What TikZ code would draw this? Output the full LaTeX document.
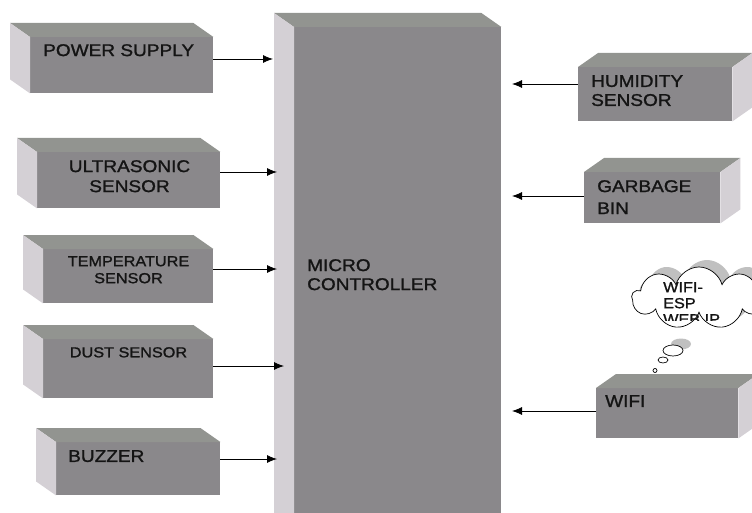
\documentclass[tikz,border=0pt]{standalone}
\usepackage{fontspec}
\newfontfamily\boxfont[FakeStretch=1.12, FakeBold=1.3]{Liberation Sans}
\definecolor{facegray}{RGB}{138,136,139}
\definecolor{topgray}{RGB}{146,148,144}
\definecolor{sidegray}{RGB}{212,208,213}
\definecolor{shadowgray}{RGB}{192,192,192}
\definecolor{textblack}{RGB}{20,20,20}
\usetikzlibrary{
    arrows.meta,
    positioning,
    calc,
    shapes.symbols
}

% top and side faces of a block seen from the left
\newcommand{\leftblock}[1]{%
    \fill[topgray] (#1.north west) -- ++(-20,-14) -- ([shift={(-20,-14)}]#1.north east) -- (#1.north east) -- cycle;
    \fill[sidegray] (#1.north west) -- ++(-20,-14) -- ([shift={(-20,-14)}]#1.south west) -- (#1.south west) -- cycle;}
% top and side faces of a block seen from the right
\newcommand{\rightblock}[1]{%
    \fill[topgray] (#1.north east) -- ++(20,-14) -- ([shift={(20,-14)}]#1.north west) -- (#1.north west) -- cycle;
    \fill[sidegray] (#1.north east) -- ++(20,-14) -- ([shift={(20,-14)}]#1.south east) -- (#1.south east) -- cycle;}

\begin{document}
\begin{tikzpicture}[x=1pt, y=-1pt,
    front/.style={fill=facegray, anchor=north west, inner sep=0},
    lbl/.style={font=\boxfont\fontsize{17}{20}\selectfont, text=textblack, inner sep=0, anchor=north west, align=left},
    lblsmall/.style={font=\boxfont\fontsize{14.5}{17}\selectfont, text=textblack, inner sep=0, anchor=north, align=center},
    arr/.style={-{Latex[length=10pt,width=8pt]}, line width=0.8pt}]
    \useasboundingbox (0,0) rectangle (752,513);
    \clip (0,0) rectangle (752,513);

    % Micro controller
    \node[front, minimum width=207pt, minimum height=503pt] (mc) at (294,27) {};
    \leftblock{mc}
    \node[lbl, font=\boxfont\fontsize{17}{19}\selectfont] (mctext) at (307,259) {MICRO\\CONTROLLER};

    % Power supply
    \node[front, minimum width=183pt, minimum height=56pt] (pwr) at (30,37) {};
    \leftblock{pwr}
    \node[lbl] (pwrtext) at (43,44) {POWER SUPPLY};

    % Ultrasonic sensor
    \node[front, minimum width=183pt, minimum height=56pt] (ultra) at (37,152) {};
    \leftblock{ultra}
    \node[lbl, anchor=north, align=center] (ultratext) at (129.5,160) {ULTRASONIC\\SENSOR};

    % Temperature sensor
    \node[front, minimum width=170pt, minimum height=54pt] (temp) at (43,249) {};
    \leftblock{temp}
    \node[lblsmall] (temptext) at (128.5,256) {TEMPERATURE\\SENSOR};

    % Dust sensor
    \node[front, minimum width=170pt, minimum height=59pt] (dust) at (43,339) {};
    \leftblock{dust}
    \node[lblsmall] (dusttext) at (128.5,347) {DUST SENSOR};

    % Buzzer
    \node[front, minimum width=164pt, minimum height=53pt] (buzz) at (56,442) {};
    \leftblock{buzz}
    \node[lbl] (buzztext) at (68,450) {BUZZER};

    % Humidity sensor
    \node[front, minimum width=154pt, minimum height=54pt] (hum) at (578,67) {};
    \rightblock{hum}
    \node[lbl, font=\boxfont\fontsize{17}{19}\selectfont] (humtext) at (591,75) {HUMIDITY\\SENSOR};

    % Garbage bin
    \node[front, minimum width=136pt, minimum height=51pt] (garb) at (584,172) {};
    \rightblock{garb}
    \node[lbl, font=\boxfont\fontsize{17}{22}\selectfont] (garbtext) at (597,180) {GARBAGE\\BIN};

    % Wifi
    \node[front, minimum width=142pt, minimum height=50pt] (wifi) at (596,388) {};
    \rightblock{wifi}
    \node[lbl] (wifitext) at (605,395) {WIFI};

    % Cloud
    \node[cloud, cloud puffs=9, aspect=2.2, minimum width=134pt, minimum height=62pt, inner sep=0, fill=shadowgray] (cloudsh) at (707,291) {};
    \fill[shadowgray] (681,344) ellipse (10 and 5.5);
    \node[cloud, cloud puffs=9, aspect=2.2, minimum width=134pt, minimum height=62pt, inner sep=0, draw, fill=white, line width=0.7pt] (wcloud) at (699,298) {};
    \draw[fill=white, line width=0.7pt] (673,350.5) ellipse (10 and 5.5);
    \draw[fill=white, line width=0.7pt] (663,360) ellipse (5 and 3);
    \draw[fill=white, line width=0.7pt] (655,370.5) ellipse (2 and 2);
    \begin{scope}
        \clip (640,270) rectangle (752,320);
        \node[lblsmall, anchor=north west, align=left, font=\boxfont\fontsize{14.5}{16}\selectfont] (cloudtext) at (663,282) {WIFI-\\ESP\\WEB IP};
    \end{scope}

    % Inputs
    \coordinate (pwrin) at (273,59);
    \coordinate (ultrain) at (277,172);
    \coordinate (tempin) at (277,269);
    \coordinate (dustin) at (284,366);
    \coordinate (buzzin) at (277,459);
    \draw[arr] (pwr.east |- pwrin) -- (pwrin);
    \draw[arr] (ultra.east |- ultrain) -- (ultrain);
    \draw[arr] (temp.east |- tempin) -- (tempin);
    \draw[arr] (dust.east |- dustin) -- (dustin);
    \draw[arr] (buzz.east |- buzzin) -- (buzzin);

    % Outputs
    \coordinate (humout) at (512,84);
    \coordinate (garbout) at (512,196);
    \coordinate (wifiout) at (512,411);
    \draw[arr] (hum.west |- humout) -- (humout);
    \draw[arr] (garb.west |- garbout) -- (garbout);
    \draw[arr] (wifi.west |- wifiout) -- (wifiout);
\end{tikzpicture}
\end{document}
